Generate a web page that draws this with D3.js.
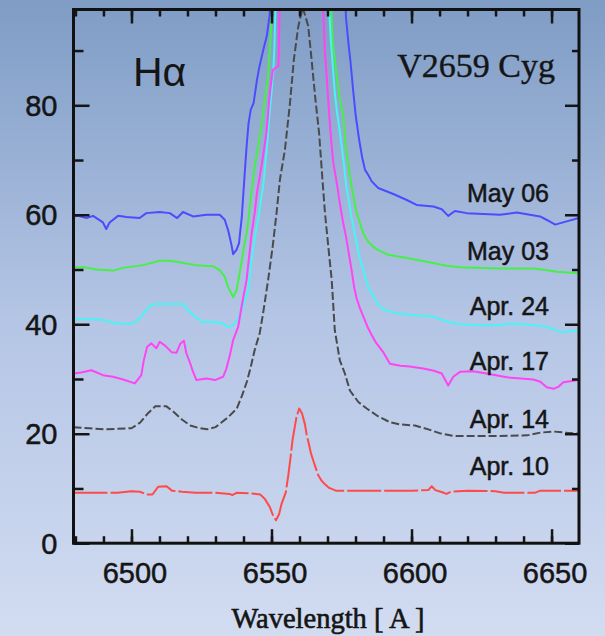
<!DOCTYPE html>
<html>
<head>
<meta charset="utf-8">
<script src="https://cdn.jsdelivr.net/npm/d3@7"></script>
<style>
  html, body { margin: 0; padding: 0; overflow: hidden; background: #b8c8e6; }
  svg { display: block; }
</style>
</head>
<body>
<svg id="chart" width="605" height="636"></svg>
<script>
// Axis extents and tick values
const wavelengthDomain = [6479.3, 6659.8];
const fluxDomain = [0, 97.5];
const xMajorTicks = [6500, 6550, 6600, 6650];
const xMinorTicks = d3.range(6480, 6660, 10);
const yMajorTicks = [0, 20, 40, 60, 80];
const yMinorTicks = d3.range(10, 100, 20);

// Hα spectra of V2659 Cyg, [wavelength (Å), relative flux], offset per date
const may06 = [
  [6479.3,59.7],[6481,59.8],[6483.9,59.4],[6486.3,59.8],[6489.8,58.6],[6491,57.4],[6492.2,58.6],
  [6495.2,59.8],[6498.2,59.6],[6502.9,59.4],[6505.3,60.3],[6510.1,60.5],[6513.7,60.3],[6516.3,59.4],
  [6518.4,60.5],[6522,59.7],[6526.8,60.0],[6531.5,60.0],[6533.3,59.1],[6534.5,57.2],[6535.7,54.5],
  [6536.3,52.8],[6537.5,53.6],[6538.4,54.8],[6539.4,59.6],[6539.8,62.7],[6540.6,68.8],[6541.2,73.1],
  [6541.8,76.7],[6542.6,79.2],[6543.6,80.4],[6544.8,84.6],[6545.7,87.1],[6547.1,90.2],[6548.3,92.6],
  [6549.3,96.3],[6549.6,99],
  [6576.4,99],[6576.6,96],[6577.4,91.7],[6578.2,88],[6579.2,82.5],[6580.1,78],[6581.3,73.7],
  [6582.4,70.4],[6583.4,68.2],[6584.5,67.3],[6585.8,66.1],[6588.1,64.9],[6593.5,63.8],[6598.3,62.7],
  [6601.8,61.8],[6607.8,61.5],[6610.8,61.0],[6613.1,59.8],[6615.5,60.7],[6619.7,60.3],[6631.6,60.0],
  [6637.6,60.4],[6645.9,59.7],[6648.5,59.0],[6651.3,58.2],[6655.4,58.8],[6659.8,59.4]
];
const may03 = [
  [6479.3,50.4],[6483,50.4],[6487.5,50.0],[6493.4,49.8],[6497,50.3],[6504.1,50.8],[6510.1,51.6],
  [6513.7,51.6],[6519.6,51.1],[6523.2,50.8],[6529.1,50.6],[6531.5,49.9],[6533.3,48.7],[6534.5,46.8],
  [6535.7,45.6],[6536.3,44.9],[6537.5,46.2],[6538.4,48.7],[6539.3,51.4],[6540.1,53.9],[6541.1,56.6],
  [6541.9,59.7],[6542.5,62.7],[6543.1,65.2],[6544,68.8],[6545.2,72.5],[6546.4,76.2],[6547.6,81],
  [6548.8,85.3],[6549.4,90.2],[6550,95.7],[6550.3,99],
  [6571.3,99],[6571.8,92],[6572.6,88.4],[6573.4,85],[6574.4,81.1],[6575.6,78.2],[6576.6,72.2],
  [6577.4,69.2],[6578.4,65.8],[6579.5,62.7],[6580.4,60.3],[6581.6,58.5],[6582.8,56.6],[6584.3,55.2],
  [6586.9,53.9],[6588.7,53.4],[6591.7,52.7],[6598.3,52.1],[6605.4,51.4],[6612.5,50.7],[6617.3,50.4],
  [6631.6,50.2],[6643.5,50.2],[6648,49.9],[6651.8,49.6],[6659.8,49.3]
];
const apr24 = [
  [6479.3,40.9],[6485,40.9],[6489.8,40.8],[6494.6,40.1],[6500.6,40.1],[6503.5,41.4],[6505.3,42.6],
  [6507.1,43.5],[6508.9,43.7],[6518.4,43.7],[6520.2,42.6],[6522.6,41.4],[6525.6,40.4],[6530.4,40.4],
  [6532.7,40.1],[6534.5,39.5],[6536.3,39.8],[6538.1,41.1],[6539.3,42.6],[6541.7,46.2],[6542.3,49.3],
  [6542.9,51.7],[6543.7,54.8],[6544.7,57.8],[6545.6,60.3],[6546.2,62.7],[6547,65.2],[6547.6,68.2],
  [6548.6,73.7],[6549.2,78],[6550,82.3],[6550.6,85.9],[6551,90.2],[6551.2,93.9],[6551.5,99],
  [6570.5,99],[6570.6,97.5],[6571.2,91.7],[6572.6,82.3],[6573.4,78.7],[6574.4,75.2],[6575.8,69.5],
  [6576.8,64.9],[6577.4,63.3],[6578.6,59.4],[6579.5,57.2],[6580.4,54.8],[6581.2,52.7],[6582.4,50.5],
  [6583.4,48.7],[6584.5,46.8],[6585.8,45.6],[6587.3,44.4],[6588.7,43.2],[6591,42.5],[6594.7,42],
  [6600,41.7],[6607.8,41.4],[6612,40.6],[6616,40.1],[6622,39.8],[6630,39.8],[6636,40.1],[6640,40.0],
  [6644,39.8],[6648,39.6],[6650,39.2],[6653,38.6],[6657,38.7],[6659.8,38.9]
];
const apr17 = [
  [6479.3,31.0],[6482,31.2],[6485.7,31.6],[6489.8,30.7],[6493.4,30.4],[6497,29.9],[6501.2,29.2],
  [6503.5,30.7],[6504.4,33.4],[6505.6,35.9],[6507.1,36.5],[6508.9,35.6],[6510.1,36.8],[6512.2,36.0],
  [6514.3,34.9],[6516.1,34.8],[6517.5,36.5],[6518.7,37.0],[6519.6,34.7],[6520.8,33.1],[6522,31.3],
  [6523.2,29.8],[6526.8,30.1],[6529.8,29.8],[6532.7,30.4],[6533.9,31.9],[6535.1,34.3],[6536.3,37.1],
  [6538.1,39.5],[6539.3,43.2],[6541.1,48.1],[6542,52.3],[6542.9,56.6],[6544,60.3],[6544.8,64.0],
  [6545.8,67.0],[6546.8,70.1],[6548.2,75],[6549.2,81],[6549.6,83],[6550.5,86.5],[6552.5,87.2],[6552.9,99],
  [6568.3,99],[6568.5,97.5],[6569,90.2],[6569.9,83.8],[6570.5,79],[6571.2,74.3],[6572,69.7],[6573.4,65.5],
  [6574.4,62.1],[6575.6,58.5],[6576.6,56],[6577.4,53.6],[6578.6,49.9],[6579.5,46.8],[6580.4,44.7],
  [6581.6,42.9],[6582.8,41.4],[6584.3,39.5],[6585.8,38],[6587.5,36.5],[6589.9,34.9],[6592.3,32.8],
  [6596,32.4],[6599.4,32.3],[6604.2,31.9],[6608,31.5],[6610.8,31.0],[6613.1,28.8],[6614.9,30.4],
  [6617.3,31.3],[6622,31.4],[6626.8,31.0],[6634,30.3],[6643.5,29.9],[6646,29.5],[6648.3,28.5],
  [6650.7,28.2],[6652.5,28.6],[6654.2,29.4],[6659.8,29.8]
];
const apr14 = [
  [6479.3,21.2],[6485,21.0],[6490,20.8],[6495,20.9],[6500,21.0],[6503,22.0],[6506,23.8],[6508.5,25.0],
  [6512.5,25.0],[6515,24.0],[6518,22.6],[6521,21.5],[6524.4,21.0],[6527,20.8],[6530,21.2],[6532,22.0],
  [6534.5,23.0],[6537.6,24.6],[6539.5,27.0],[6541.2,29.5],[6542.5,32.0],[6544,35.3],[6545.8,38.4],
  [6547,42.0],[6548.8,48.1],[6550.4,54.1],[6551.8,60.3],[6553,66.4],[6554.8,71.9],[6556.6,80.4],
  [6558,88.4],[6559.5,94.2],[6560.4,96.3],[6561.2,97.8],[6561.9,96.6],[6563.1,94.5],[6564.3,88.4],
  [6565.7,81],[6567,74.9],[6568.2,66.4],[6569.1,60.3],[6570.3,54.1],[6571.5,48.1],[6572.6,38.9],
  [6574.4,33.4],[6576.2,31],[6578,27.9],[6581,25.8],[6584,24.6],[6588,23.2],[6592.3,22.1],[6596,21.7],
  [6601.2,21.5],[6606,20.8],[6610,20.1],[6614.8,19.6],[6631.6,19.6],[6641.3,19.7],[6646,20.2],
  [6650.6,20.4],[6655,20.2],[6659.8,20.0]
];
const apr10 = [
  [6479.3,9.2],[6485,9.2],[6495,9.2],[6500,9.5],[6503,9.4],[6505.5,8.9],[6507.5,8.9],[6509.5,10.3],
  [6512.5,10.4],[6514.5,9.6],[6518,9.4],[6523,9.2],[6530,9.2],[6535,9.0],[6536,8.8],[6537.5,9.2],
  [6543,9.1],[6546,8.9],[6547.6,8.1],[6549.4,6.6],[6550.6,5.0],[6551.6,4.2],[6552.7,5.3],[6553.6,7.2],
  [6555.1,9.3],[6556,12.4],[6556.8,15.7],[6557.5,18.8],[6558.3,21.2],[6558.9,23.0],[6559.9,24.6],
  [6560.9,23.7],[6561.9,21.8],[6562.5,20.0],[6563.3,18.2],[6564,16.6],[6564.9,15.1],[6565.7,13.9],
  [6566.7,12.4],[6567.9,11.4],[6569,10.8],[6570.6,10.1],[6573,9.6],[6590,9.6],[6600,9.6],[6606,9.7],
  [6607.2,10.4],[6608.5,9.7],[6611,9.3],[6612.5,9.0],[6614,9.4],[6620,9.6],[6630,9.5],[6633,9.2],
  [6644,9.2],[6646,9.6],[6659.8,9.6]
];

const seriesNames = ["May 06", "May 03", "Apr. 24", "Apr. 17", "Apr. 14", "Apr. 10"];
const seriesData = [may06, may03, apr24, apr17, apr14, apr10];
const seriesColors = ["#4a4cff", "#46f046", "#48f4f4", "#ff44f4", "#4a4a4a", "#ff4a4a"];
const seriesDashes = [null, null, null, null, "8,3", "34,3"];
// flux level at which each date label sits
const labelLevels = [62.4, 51.7, 41.6, 31.6, 21.0, 12.4];

const W = 605, H = 636;
const svg = d3.select("#chart");

// background wash
const defs = svg.append("defs");
const grad = defs.append("linearGradient").attr("id", "bg")
  .attr("x1", 0).attr("y1", 0).attr("x2", 0).attr("y2", 1);
grad.append("stop").attr("offset", 0).attr("stop-color", "#7f9cc5");
grad.append("stop").attr("offset", 0.5).attr("stop-color", "#b4c5e5");
grad.append("stop").attr("offset", 1).attr("stop-color", "#d2dcf1");
svg.append("rect").attr("width", W).attr("height", H).attr("fill", "url(#bg)");

const x = d3.scaleLinear().domain(wavelengthDomain).range([73.5, 579]);
const y = d3.scaleLinear().domain(fluxDomain).range([543.2, 9.5]);
const [x0, x1] = x.range();
const [y0, y1] = y.range();

defs.append("clipPath").attr("id", "plot")
  .append("rect").attr("x", x0).attr("y", y1).attr("width", x1 - x0).attr("height", y0 - y1);

// spectra
const line = d3.line().x(d => x(d[0])).y(d => y(d[1]));
const lines = svg.append("g").attr("clip-path", "url(#plot)");
seriesData.forEach((data, i) => {
  lines.append("path")
    .datum(data)
    .attr("d", line)
    .attr("fill", "none")
    .attr("stroke", seriesColors[i])
    .attr("stroke-width", 2)
    .attr("stroke-linejoin", "round")
    .attr("stroke-dasharray", seriesDashes[i]);
});

// axes: inward ticks on all four sides
const ink = "#151515";
const font = "'Liberation Sans', Arial, sans-serif";
const serif = "'Liberation Serif', 'Times New Roman', serif";
function styleAxis(g) {
  g.select(".domain").remove();
  g.selectAll(".tick line").attr("stroke", ink).attr("stroke-width", 2.5);
  g.selectAll(".tick text").attr("fill", ink)
    .attr("stroke", ink).attr("stroke-width", 0.5)
    .attr("font-family", font).attr("font-size", 29);
}

svg.append("g").attr("transform", `translate(0,${y0})`)
  .call(d3.axisBottom(x).tickValues(xMinorTicks).tickSize(-7).tickFormat(""))
  .call(styleAxis);
svg.append("g").attr("transform", `translate(0,${y0})`)
  .call(d3.axisBottom(x).tickValues(xMajorTicks).tickSize(-14).tickPadding(0).tickFormat(d3.format("d")))
  .call(styleAxis)
  .call(g => g.selectAll(".tick text").attr("y", 0).attr("dy", 40).attr("dx", 3));

svg.append("g").attr("transform", `translate(0,${y1})`)
  .call(d3.axisTop(x).tickValues(xMinorTicks).tickSize(-7).tickFormat(""))
  .call(styleAxis);
svg.append("g").attr("transform", `translate(0,${y1})`)
  .call(d3.axisTop(x).tickValues(xMajorTicks).tickSize(-14).tickFormat(""))
  .call(styleAxis);

svg.append("g").attr("transform", `translate(${x0},0)`)
  .call(d3.axisLeft(y).tickValues(yMinorTicks).tickSize(-10).tickFormat(""))
  .call(styleAxis);
svg.append("g").attr("transform", `translate(${x0},0)`)
  .call(d3.axisLeft(y).tickValues(yMajorTicks).tickSize(-16).tickFormat(d3.format("d")))
  .call(styleAxis)
  .call(g => g.selectAll(".tick text").attr("x", -16).attr("dy", "0.35em"));

svg.append("g").attr("transform", `translate(${x1},0)`)
  .call(d3.axisRight(y).tickValues(yMinorTicks).tickSize(-7).tickFormat(""))
  .call(styleAxis);
svg.append("g").attr("transform", `translate(${x1},0)`)
  .call(d3.axisRight(y).tickValues(yMajorTicks).tickSize(-14).tickFormat(""))
  .call(styleAxis);

// frame
svg.append("rect")
  .attr("x", x0).attr("y", y1).attr("width", x1 - x0).attr("height", y0 - y1)
  .attr("fill", "none").attr("stroke", "#111").attr("stroke-width", 3);

// date labels
svg.append("g").selectAll("text")
  .data(seriesNames)
  .join("text")
  .attr("x", 549)
  .attr("y", (d, i) => y(labelLevels[i]))
  .attr("text-anchor", "end")
  .attr("font-family", font)
  .attr("font-size", 25)
  .attr("fill", ink).attr("stroke", ink).attr("stroke-width", 0.5)
  .text(d => d);

// titles
svg.append("text")
  .attr("x", 133).attr("y", 86)
  .attr("font-family", font).attr("font-size", 41).attr("fill", ink)
  .text("Hα");
svg.append("text")
  .attr("x", 555).attr("y", 77).attr("text-anchor", "end")
  .attr("font-family", serif).attr("font-size", 34)
  .attr("fill", ink).attr("stroke", ink).attr("stroke-width", 0.4)
  .text("V2659 Cyg");
svg.append("text")
  .attr("x", 328).attr("y", 628).attr("text-anchor", "middle")
  .attr("font-family", serif).attr("font-size", 28.5)
  .attr("fill", ink).attr("stroke", ink).attr("stroke-width", 0.6)
  .text("Wavelength [ A ]");
</script>
</body>
</html>
